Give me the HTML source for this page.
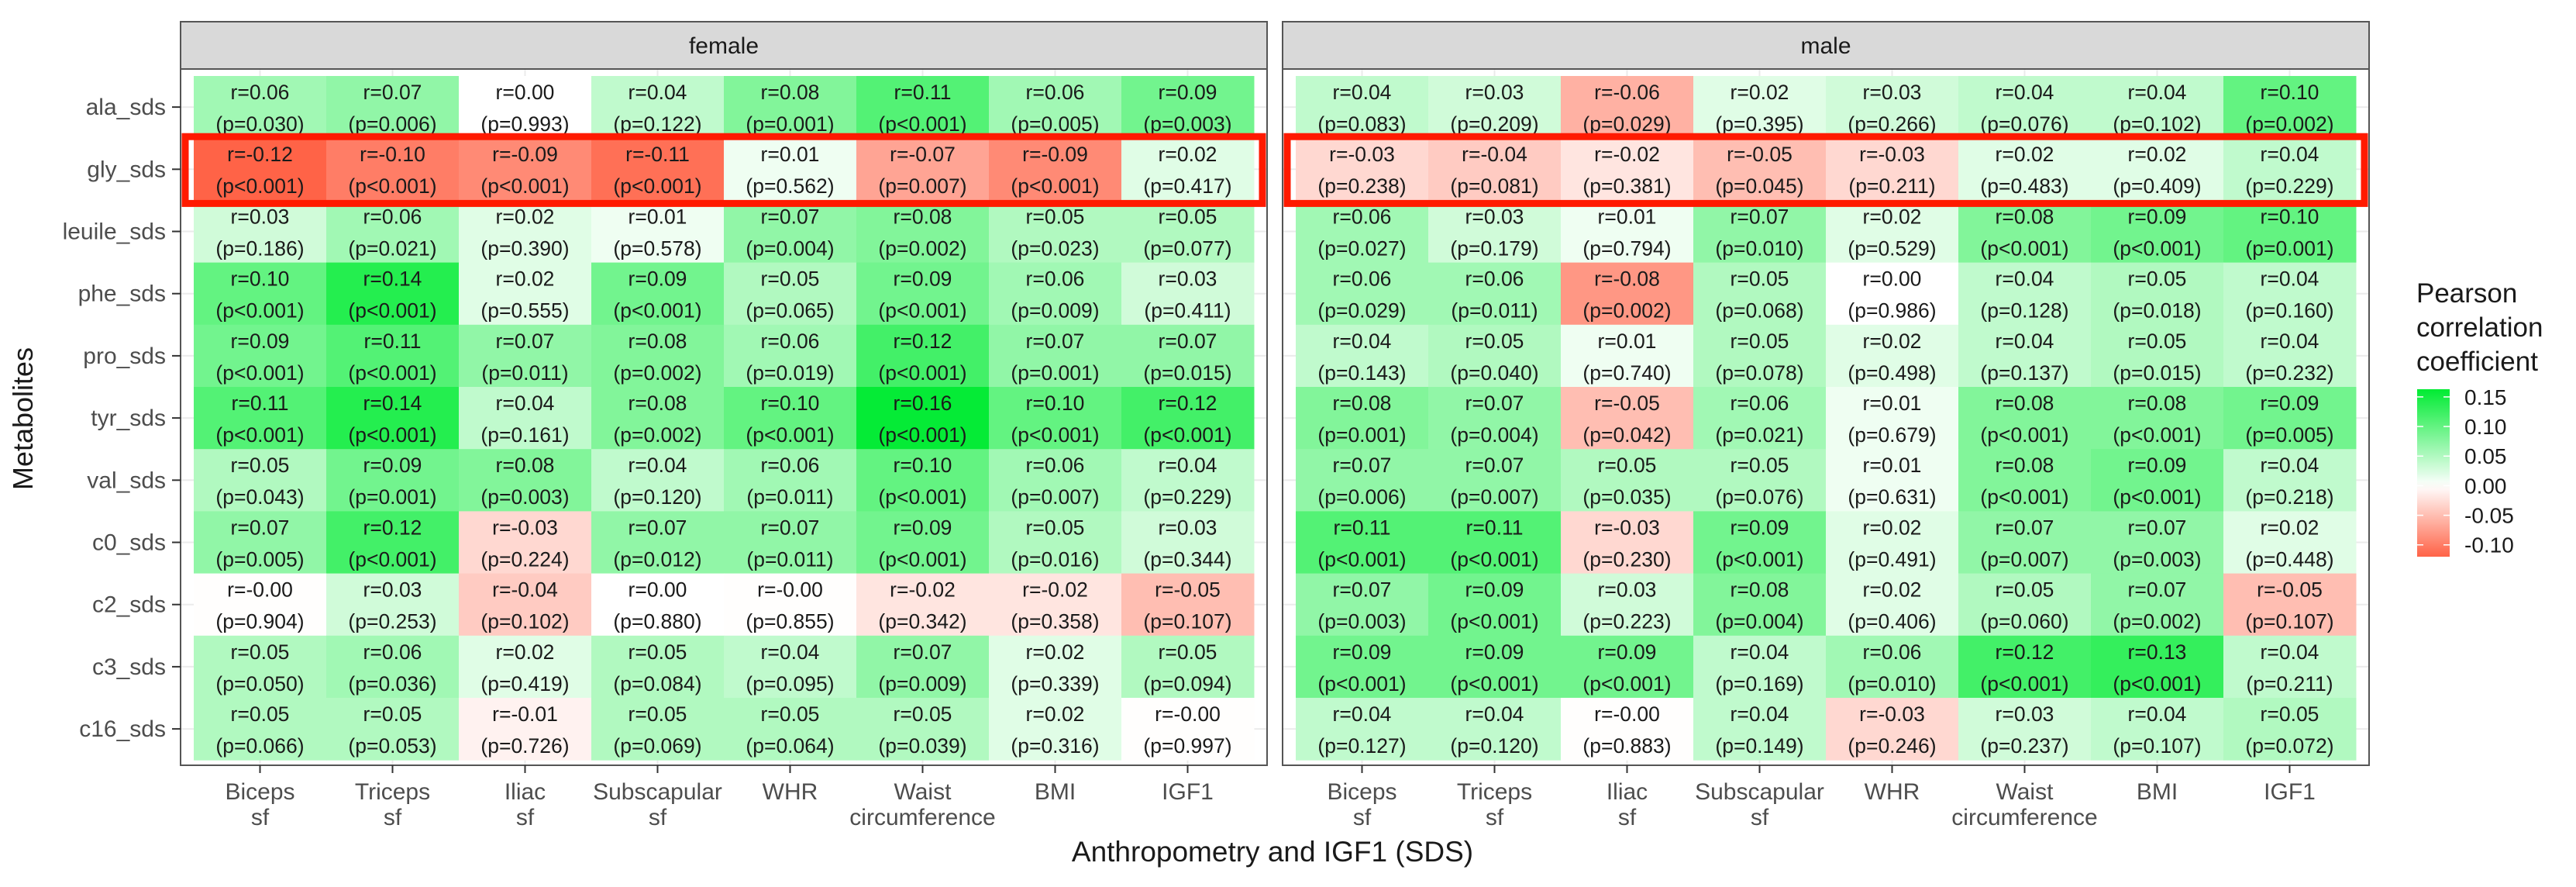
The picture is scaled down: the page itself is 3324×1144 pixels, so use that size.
<!DOCTYPE html>
<html><head><meta charset="utf-8"><style>
html,body{margin:0;padding:0;background:#fff;}
svg{display:block;font-family:"Liberation Sans",Arial,sans-serif;}
</style></head><body>
<svg id="chart" width="3324" height="1144" viewBox="0 0 3324 1144" xmlns="http://www.w3.org/2000/svg"></svg>
<script>
const metabolites = ["ala_sds","gly_sds","leuile_sds","phe_sds","pro_sds","tyr_sds","val_sds","c0_sds","c2_sds","c3_sds","c16_sds"];
const measures = [["Biceps","sf"],["Triceps","sf"],["Iliac","sf"],["Subscapular","sf"],["WHR"],["Waist","circumference"],["BMI"],["IGF1"]];
const panels = ["female","male"];
const femaleR = [
[0.06,0.07,0.00,0.04,0.08,0.11,0.06,0.09],
[-0.12,-0.10,-0.09,-0.11,0.01,-0.07,-0.09,0.02],
[0.03,0.06,0.02,0.01,0.07,0.08,0.05,0.05],
[0.10,0.14,0.02,0.09,0.05,0.09,0.06,0.03],
[0.09,0.11,0.07,0.08,0.06,0.12,0.07,0.07],
[0.11,0.14,0.04,0.08,0.10,0.16,0.10,0.12],
[0.05,0.09,0.08,0.04,0.06,0.10,0.06,0.04],
[0.07,0.12,-0.03,0.07,0.07,0.09,0.05,0.03],
[-0.001,0.03,-0.04,0.00,-0.001,-0.02,-0.02,-0.05],
[0.05,0.06,0.02,0.05,0.04,0.07,0.02,0.05],
[0.05,0.05,-0.01,0.05,0.05,0.05,0.02,-0.001]];
const femaleP = [
["=0.030","=0.006","=0.993","=0.122","=0.001","<0.001","=0.005","=0.003"],
["<0.001","<0.001","<0.001","<0.001","=0.562","=0.007","<0.001","=0.417"],
["=0.186","=0.021","=0.390","=0.578","=0.004","=0.002","=0.023","=0.077"],
["<0.001","<0.001","=0.555","<0.001","=0.065","<0.001","=0.009","=0.411"],
["<0.001","<0.001","=0.011","=0.002","=0.019","<0.001","=0.001","=0.015"],
["<0.001","<0.001","=0.161","=0.002","<0.001","<0.001","<0.001","<0.001"],
["=0.043","=0.001","=0.003","=0.120","=0.011","<0.001","=0.007","=0.229"],
["=0.005","<0.001","=0.224","=0.012","=0.011","<0.001","=0.016","=0.344"],
["=0.904","=0.253","=0.102","=0.880","=0.855","=0.342","=0.358","=0.107"],
["=0.050","=0.036","=0.419","=0.084","=0.095","=0.009","=0.339","=0.094"],
["=0.066","=0.053","=0.726","=0.069","=0.064","=0.039","=0.316","=0.997"]];
const maleR = [
[0.04,0.03,-0.06,0.02,0.03,0.04,0.04,0.10],
[-0.03,-0.04,-0.02,-0.05,-0.03,0.02,0.02,0.04],
[0.06,0.03,0.01,0.07,0.02,0.08,0.09,0.10],
[0.06,0.06,-0.08,0.05,0.00,0.04,0.05,0.04],
[0.04,0.05,0.01,0.05,0.02,0.04,0.05,0.04],
[0.08,0.07,-0.05,0.06,0.01,0.08,0.08,0.09],
[0.07,0.07,0.05,0.05,0.01,0.08,0.09,0.04],
[0.11,0.11,-0.03,0.09,0.02,0.07,0.07,0.02],
[0.07,0.09,0.03,0.08,0.02,0.05,0.07,-0.05],
[0.09,0.09,0.09,0.04,0.06,0.12,0.13,0.04],
[0.04,0.04,-0.001,0.04,-0.03,0.03,0.04,0.05]];
const maleP = [
["=0.083","=0.209","=0.029","=0.395","=0.266","=0.076","=0.102","=0.002"],
["=0.238","=0.081","=0.381","=0.045","=0.211","=0.483","=0.409","=0.229"],
["=0.027","=0.179","=0.794","=0.010","=0.529","<0.001","<0.001","=0.001"],
["=0.029","=0.011","=0.002","=0.068","=0.986","=0.128","=0.018","=0.160"],
["=0.143","=0.040","=0.740","=0.078","=0.498","=0.137","=0.015","=0.232"],
["=0.001","=0.004","=0.042","=0.021","=0.679","<0.001","<0.001","=0.005"],
["=0.006","=0.007","=0.035","=0.076","=0.631","<0.001","<0.001","=0.218"],
["<0.001","<0.001","=0.230","<0.001","=0.491","=0.007","=0.003","=0.448"],
["=0.003","<0.001","=0.223","=0.004","=0.406","=0.060","=0.002","=0.107"],
["<0.001","<0.001","<0.001","=0.169","=0.010","<0.001","<0.001","=0.211"],
["=0.127","=0.120","=0.883","=0.149","=0.246","=0.237","=0.107","=0.072"]];
const legendTicks = [0.15,0.10,0.05,0.00,-0.05,-0.10];
const highlightRow = "gly_sds";

const svg = document.getElementById('chart');
const NS = "http://www.w3.org/2000/svg";
function mk(tag, attrs, parent){const e=document.createElementNS(NS,tag);for(const k in attrs)e.setAttribute(k,attrs[k]);(parent||svg).appendChild(e);return e;}
const cellW = 171, cellH = 80.2, topY = 98;
const panelX0 = [250, 1672];
const xScale = (p,i)=>panelX0[p]+i*cellW;
const yScale = j=>topY+j*cellH;
const vmax = 0.163, vmin = -0.12;
function color(v){
  if(v>=0){const t=Math.min(1,v/vmax);return `rgb(${Math.round(255*(1-t))},${Math.round(255-20*t)},${Math.round(255-205*t)})`;}
  const t=Math.min(1,v/vmin);return `rgb(255,${Math.round(255-156*t)},${Math.round(255-184*t)})`;
}
const dataR=[femaleR,maleR], dataP=[femaleP,maleP];
panels.forEach((pn,p)=>{
  const bx0 = panelX0[p]-17, bx1 = panelX0[p]+8*cellW+17;
  const g = mk('g',{});
  
  
  const strip = mk('rect',{x:bx0,y:28,width:bx1-bx0,height:61,fill:'#d9d9d9',stroke:'#555',"stroke-width":2},g);
  
  
  const st = mk('text',{x:(bx0+bx1)/2,y:69,"text-anchor":"middle","font-size":30,fill:'#1a1a1a'},g);
  st.textContent = pn;
  
  
  measures.forEach((m,i)=>{const x=xScale(p,i)+cellW/2;mk('line',{x1:x,x2:x,y1:89,y2:987,stroke:'#ebebeb',"stroke-width":2},g);});
  metabolites.forEach((m,j)=>{const y=yScale(j)+cellH/2;mk('line',{x1:bx0,x2:bx1,y1:y,y2:y,stroke:'#ebebeb',"stroke-width":2},g);});
  metabolites.forEach((m,j)=>{
    measures.forEach((ms,i)=>{
      const v=dataR[p][j][i];
      const r=mk('rect',{x:xScale(p,i),y:yScale(j),width:cellW+0.5,height:cellH+0.5,fill:color(v)},g);
      
      
      const cx=xScale(p,i)+cellW/2;
      const t1=mk('text',{x:cx,y:yScale(j)+30,"text-anchor":"middle","font-size":26.5,fill:'#1a1a1a'},g);
      t1.textContent='r='+v.toFixed(2);
      
      
      const t2=mk('text',{x:cx,y:yScale(j)+71,"text-anchor":"middle","font-size":26.5,fill:'#1a1a1a'},g);
      t2.textContent='(p'+dataP[p][j][i]+')';
      
      
    });
  });
  const b = mk('rect',{x:bx0,y:89,width:bx1-bx0,height:898,fill:'none',stroke:'#555',"stroke-width":2},g);
  
  
  const hj = metabolites.indexOf(highlightRow);
  const hb = mk('rect',{x:bx0+6,y:yScale(hj)-2,width:bx1-bx0-12,height:cellH+6,fill:'none',stroke:'#ff1a00',"stroke-width":9},g);
  
  
  measures.forEach((ms,i)=>{
    const x=xScale(p,i)+cellW/2;
    mk('line',{x1:x,x2:x,y1:987,y2:997,stroke:'#333',"stroke-width":2},g);
    ms.forEach((ln,k)=>{
      const t=mk('text',{x:x,y:1031+k*33,"text-anchor":"middle","font-size":30,fill:'#4d4d4d'},g);
      t.textContent=ln;
      
      
    });
  });
});
metabolites.forEach((m,j)=>{
  const y=yScale(j)+cellH/2;
  mk('line',{x1:222,x2:233,y1:y,y2:y,stroke:'#333',"stroke-width":2});
  const t=mk('text',{x:214,y:y+10,"text-anchor":"end","font-size":30,fill:'#4d4d4d'});
  t.textContent=m;
  
  
});
const yt=mk('text',{x:0,y:0,transform:'translate(42,540) rotate(-90)',"text-anchor":"middle","font-size":36,fill:'#1a1a1a'});
yt.textContent='Metabolites';


const xt=mk('text',{x:1642,y:1111,"text-anchor":"middle","font-size":37,fill:'#1a1a1a'});
xt.textContent='Anthropometry and IGF1 (SDS)';


const lg=mk('g',{});


['Pearson','correlation','coefficient'].forEach((s,k)=>{
  const t=mk('text',{x:3118,y:390+k*44,"font-size":35,fill:'#1a1a1a'},lg);
  t.textContent=s;
  
  
});
const barTop=502, barBot=718, lx=3119, lw=42;
const legY=v=>barTop+(vmax-v)/(vmax-vmin)*(barBot-barTop);
const defs=mk('defs',{},lg);
const grad=mk('linearGradient',{id:'lgGrad',x1:0,y1:0,x2:0,y2:1},defs);
for(let k=0;k<=20;k++){const v=vmax-(vmax-vmin)*k/20;mk('stop',{offset:(k/20),"stop-color":color(v)},grad);}
const bar=mk('rect',{x:lx,y:barTop,width:lw,height:barBot-barTop,fill:'url(#lgGrad)'},lg);


legendTicks.forEach(v=>{
  const y=legY(v);
  mk('line',{x1:lx,x2:lx+8,y1:y,y2:y,stroke:'#fff',"stroke-width":1.5},lg);
  mk('line',{x1:lx+lw-8,x2:lx+lw,y1:y,y2:y,stroke:'#fff',"stroke-width":1.5},lg);
  const t=mk('text',{x:3180,y:y+10,"font-size":28,fill:'#1a1a1a'},lg);
  t.textContent=v.toFixed(2);
  
  
});
</script>
</body></html>
